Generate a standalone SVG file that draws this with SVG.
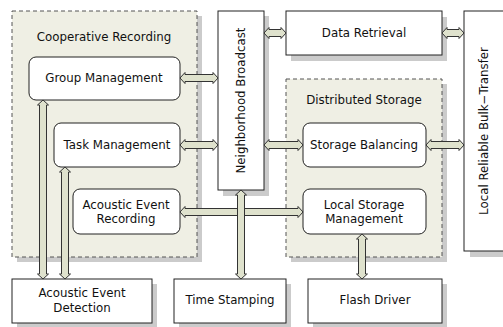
<svg xmlns="http://www.w3.org/2000/svg" width="503" height="327" viewBox="0 0 503 327">
<style>
.grp{fill:#efefe4;stroke:#555;stroke-width:1;stroke-dasharray:4,3}
.sh{fill:#cbcbcb}
.box{fill:#fff;stroke:#222;stroke-width:1}
.arr{fill:#dfe2cd;stroke:#333;stroke-width:1;stroke-linejoin:round}
text{font-family:"DejaVu Sans",Verdana,sans-serif;font-size:11.8px;fill:#111;text-anchor:middle}
</style>
<rect width="503" height="327" fill="#fff"/>
<g id="cooperative-recording">
<rect class="sh" x="17" y="16" width="185" height="246"/>
<rect class="grp" x="12" y="11" width="185" height="246"/>
<text x="104" y="41">Cooperative Recording</text>
</g>
<g id="distributed-storage">
<rect class="sh" x="291" y="84" width="156" height="178"/>
<rect class="grp" x="286" y="79" width="156" height="178"/>
<text x="364" y="104">Distributed Storage</text>
</g>
<g id="group-management">
<rect class="box" x="29" y="57" width="151" height="43" rx="7"/>
<text x="104" y="82">Group Management</text>
</g>
<g id="task-management">
<rect class="box" x="54" y="123" width="126" height="44" rx="7"/>
<text x="117" y="149">Task Management</text>
</g>
<g id="acoustic-event-recording">
<rect class="box" x="73" y="189" width="107" height="45" rx="7"/>
<text x="126" y="209">Acoustic Event</text>
<text x="126" y="223">Recording</text>
</g>
<g id="neighborhood-broadcast">
<rect class="sh" x="223" y="16" width="46" height="180"/>
<rect class="box" x="218" y="11" width="46" height="179"/>
<text transform="translate(245,100.5) rotate(-90)">Neighborhood Broadcast</text>
</g>
<g id="data-retrieval">
<rect class="sh" x="291" y="17" width="156" height="44"/>
<rect class="box" x="286" y="11" width="156" height="44"/>
<text x="364" y="37">Data Retrieval</text>
</g>
<g id="storage-balancing">
<rect class="box" x="303" y="123" width="123" height="44" rx="7"/>
<text x="364" y="149">Storage Balancing</text>
</g>
<g id="local-storage-management">
<rect class="box" x="303" y="189" width="123" height="45" rx="7"/>
<text x="364" y="209">Local Storage</text>
<text x="364" y="223">Management</text>
</g>
<g id="local-reliable-bulk-transfer">
<rect class="sh" x="470" y="17" width="40" height="240"/>
<rect class="box" x="464" y="11" width="46" height="240"/>
<text transform="translate(488,131) rotate(-90)">Local Reliable Bulk−Transfer</text>
</g>
<g id="acoustic-event-detection">
<rect class="sh" x="17" y="284" width="140" height="44"/>
<rect class="box" x="12" y="279" width="140" height="44"/>
<text x="82" y="297">Acoustic Event</text>
<text x="82" y="312">Detection</text>
</g>
<g id="time-stamping">
<rect class="sh" x="179" y="284" width="112" height="44"/>
<rect class="box" x="174" y="279" width="112" height="44"/>
<text x="230" y="304">Time Stamping</text>
</g>
<g id="flash-driver">
<rect class="sh" x="313" y="284" width="134" height="44"/>
<rect class="box" x="308" y="279" width="134" height="44"/>
<text x="375" y="304">Flash Driver</text>
</g>
<g id="connectors">
<polygon class="arr" points="180,78 185,72.5 185,74.5 213,74.5 213,72.5 218,78 213,83.5 213,81.5 185,81.5 185,83.5"/>
<polygon class="arr" points="180,145 185,139.5 185,141.5 213,141.5 213,139.5 218,145 213,150.5 213,148.5 185,148.5 185,150.5"/>
<polygon class="arr" points="180,212 185,206.5 185,208.5 298,208.5 298,206.5 303,212 298,217.5 298,215.5 185,215.5 185,217.5"/>
<polygon class="arr" points="264,33 269,27.5 269,29.5 281,29.5 281,27.5 286,33 281,38.5 281,36.5 269,36.5 269,38.5"/>
<polygon class="arr" points="442,33 447,27.5 447,29.5 459,29.5 459,27.5 464,33 459,38.5 459,36.5 447,36.5 447,38.5"/>
<polygon class="arr" points="264,145 269,139.5 269,141.5 298,141.5 298,139.5 303,145 298,150.5 298,148.5 269,148.5 269,150.5"/>
<polygon class="arr" points="426,145 431,139.5 431,141.5 459,141.5 459,139.5 464,145 459,150.5 459,148.5 431,148.5 431,150.5"/>
<polygon class="arr" points="43,100 48.5,105 46.5,105 46.5,274 48.5,274 43,279 37.5,274 39.5,274 39.5,105 37.5,105"/>
<polygon class="arr" points="65,167 70.5,172 68.5,172 68.5,274 70.5,274 65,279 59.5,274 61.5,274 61.5,172 59.5,172"/>
<polygon class="arr" points="241,190 246.5,195 244.5,195 244.5,274 246.5,274 241,279 235.5,274 237.5,274 237.5,195 235.5,195"/>
<polygon class="arr" points="362,234 367.5,239 365.5,239 365.5,274 367.5,274 362,279 356.5,274 358.5,274 358.5,239 356.5,239"/>
</g>
</svg>
